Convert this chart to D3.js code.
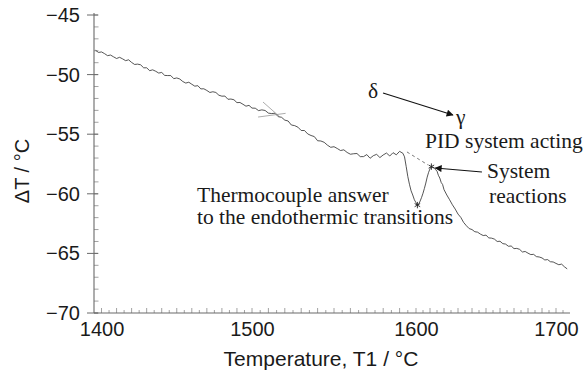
<!DOCTYPE html>
<html><head><meta charset="utf-8">
<script src="https://cdn.jsdelivr.net/npm/d3@7"></script>
<style>html,body{margin:0;padding:0;background:#fff;} svg{display:block;}</style>
</head><body><svg id="c" width="583" height="376"></svg>
<script>
// ---- data ----
const temperature = [
1396,1398,1400,1402,1404,1406,1408,1410,1412,1414,1416,1418,1420,1422,1424,1426,1428,1430,1432,1434,
1436,1438,1440,1442,1444,1446,1448,1450,1452,1454,1456,1458,1460,1462,1464,1466,1468,1470,1472,1474,
1476,1478,1480,1482,1484,1486,1488,1490,1492,1494,1496,1498,1500,1502,1504,1506,1508,1510,1512,1514,
1516,1518,1520,1522,1524,1526,1528,1530,1532,1534,1536,1538,1540,1542,1544,1546,1548,1550,1552,1554,
1556,1558,1560,1562,1564,1566,1568,1570,1572,1574,1576,1578,1580,1582,1584,1586,1588,1590,
1592,1593,1594,1595,1596,1597,1598,1599,1600,1601,1602,1603,1604,1605,1606,1607,1608,1609,1610,1611,
1612,1613,1614,1615,1616,1617,1618,1619,1620,
1622,1624,1626,1628,1630,1632,1634,1636,1638,1640,1642,1644,1646,1648,1650,1652,1654,1656,1658,1660,
1662,1664,1666,1668,1670,1672,1674,1676,1678,1680,1682,1684,1686,1688,1690,1692,1694,1696,1698,1700,
1702,1704,1706,1708];
const deltaT = [
-47.96,-48.14,-48.10,-48.24,-48.41,-48.36,-48.51,-48.65,-48.55,-48.68,-48.83,-48.76,-48.98,-49.15,-49.12,-49.18,-49.43,-49.43,-49.67,-49.60,
-49.72,-49.87,-49.82,-50.07,-50.08,-50.08,-50.34,-50.28,-50.37,-50.58,-50.71,-50.64,-50.81,-50.97,-50.93,-51.20,-51.19,-51.33,-51.50,-51.44,
-51.50,-51.73,-51.81,-51.80,-52.07,-52.05,-52.11,-52.35,-52.34,-52.49,-52.65,-52.58,-52.81,-52.82,-53.02,-52.96,-53.01,-53.23,-53.27,-53.24,
-53.53,-53.58,-53.82,-53.89,-54.23,-54.28,-54.41,-54.69,-54.69,-54.98,-55.11,-55.20,-55.55,-55.57,-55.68,-55.92,-56.10,-56.05,-56.20,-56.37,
-56.31,-56.53,-56.68,-56.64,-56.62,-56.88,-56.88,-56.71,-57.02,-56.80,-56.69,-56.96,-56.74,-56.58,-56.83,-56.55,-56.73,-56.44,
-56.60,-56.90,-57.70,-58.55,-59.20,-59.75,-60.10,-60.50,-60.75,-60.95,-60.85,-60.60,-60.30,-59.95,-59.55,-59.10,-58.60,-58.20,-57.90,-57.72,
-57.78,-57.80,-57.98,-58.10,-58.45,-58.68,-59.05,-59.22,-59.65,
-60.10,-60.50,-60.92,-61.28,-61.70,-61.98,-62.40,-62.68,-62.92,-63.00,-63.18,-63.22,-63.38,-63.50,-63.47,-63.70,-63.72,-63.80,-64.00,-63.98,
-64.18,-64.22,-64.40,-64.38,-64.60,-64.58,-64.66,-64.88,-64.84,-64.98,-65.10,-65.08,-65.27,-65.30,-65.38,-65.55,-65.52,-65.70,-65.72,-65.84,
-65.95,-65.90,-66.12,-66.30];

const yTickValues = [-70, -65, -60, -55, -50, -45];
const yTickLabels = ["\u221270", "\u221265", "\u221260", "\u221255", "\u221250", "\u221245"];
const xTickValues = [1400, 1500, 1600, 1700];
const xTickLabels = ["1400", "1500", "1600", "1700"];

// transition minimum and system-reaction peak
const markerT = [1601, 1611];
const markerV = [-60.95, -57.72];

// guide lines (data coordinates): [t1, v1, t2, v2]
const baselineExtension = [1594.5, -56.49, 1608.6, -57.58];
const tangentA = [1506.7, -52.30, 1517.1, -53.56];
const tangentB = [1503.7, -53.56, 1520.5, -53.25];
// arrows (data coordinates): [tFrom, vFrom, tTo, vTo]
const arrowDeltaGamma = [1579.9, -51.54, 1626.4, -53.39];
const arrowSystem = [1647.1, -58.17, 1613.8, -57.84];

// ---- drawing ----
const svg = d3.select("#c");
const sans = "'Liberation Sans', Arial, Helvetica, sans-serif";
const serif = "'Liberation Serif', 'Times New Roman', Times, serif";

const x = d3.scaleLinear().domain([1395, 1500, 1600, 1710]).range([94, 252, 416, 570]);
const y = d3.scaleLinear().domain([-70, -45]).range([313, 15]);

const axisColor = "#6a6a6a";

const g = svg.append("g");
// minor ticks y (inside)
g.selectAll("line.ymin").data(d3.range(-70, -44, 1)).join("line")
  .attr("x1", 94).attr("x2", 98.5)
  .attr("y1", d => y(d)).attr("y2", d => y(d))
  .attr("stroke", "#8a8a8a").attr("stroke-width", 0.8);
// major ticks y (crossing)
g.selectAll("line.ymaj").data(yTickValues).join("line")
  .attr("x1", 87).attr("x2", 98)
  .attr("y1", d => y(d)).attr("y2", d => y(d))
  .attr("stroke", axisColor).attr("stroke-width", 1);
// minor ticks x (inside)
g.selectAll("line.xmin").data(d3.range(1400, 1710, 5)).join("line")
  .attr("x1", d => x(d)).attr("x2", d => x(d))
  .attr("y1", 313).attr("y2", d => d % 10 === 0 ? 308 : 310)
  .attr("stroke", "#8a8a8a").attr("stroke-width", 0.8);

// axis lines
g.append("line").attr("x1", 94).attr("x2", 94).attr("y1", 13).attr("y2", 313)
  .attr("stroke", axisColor).attr("stroke-width", 1.1);
g.append("line").attr("x1", 94).attr("x2", 570).attr("y1", 313).attr("y2", 313)
  .attr("stroke", axisColor).attr("stroke-width", 1.1);

// tick labels via d3 axes
const yAxis = d3.axisLeft(y).tickValues(yTickValues)
  .tickFormat((d, i) => yTickLabels[i]).tickSize(0).tickPadding(14);
const ya = svg.append("g").attr("transform", "translate(94,0)").call(yAxis);
ya.select(".domain").remove();
ya.selectAll("text").attr("font-family", sans).attr("font-size", 20).attr("fill", "#1a1a1a");

const xAxis = d3.axisBottom(x).tickValues(xTickValues)
  .tickFormat((d, i) => xTickLabels[i]).tickSize(0).tickPadding(9);
const xa = svg.append("g").attr("transform", "translate(0,313)").call(xAxis);
xa.select(".domain").remove();
xa.selectAll("text").attr("font-family", sans).attr("font-size", 20).attr("fill", "#1a1a1a");

// axis titles
svg.append("text").attr("x", 321).attr("y", 366).attr("text-anchor", "middle")
  .attr("font-family", sans).attr("font-size", 21).attr("fill", "#1a1a1a")
  .text("Temperature, T1 / \u00B0C");
svg.append("text").attr("transform", "translate(29,171) rotate(-90)")
  .attr("text-anchor", "middle")
  .attr("font-family", sans).attr("font-size", 20).attr("fill", "#1a1a1a")
  .text("\u0394T / \u00B0C");

// curve
const pts = temperature.map((t, i) => ({t, v: deltaT[i]}));
svg.append("path").datum(pts)
  .attr("d", d3.line().x(d => x(d.t)).y(d => y(d.v)))
  .attr("fill", "none").attr("stroke", "#2a2a2a").attr("stroke-width", 0.8)
  .attr("stroke-linejoin", "round");

// guide lines
function seg(a, attrs) {
  const l = svg.append("line")
    .attr("x1", x(a[0])).attr("y1", y(a[1])).attr("x2", x(a[2])).attr("y2", y(a[3]));
  Object.entries(attrs).forEach(([k, v]) => l.attr(k, v));
  return l;
}
seg(baselineExtension, {"stroke": "#777", "stroke-width": 1, "stroke-dasharray": "3,3"});
seg(tangentA, {"stroke": "#888", "stroke-width": 0.7});
seg(tangentB, {"stroke": "#888", "stroke-width": 0.7});

// arrow marker
svg.append("defs").append("marker").attr("id", "ah")
  .attr("viewBox", "0 0 10 10").attr("refX", 9).attr("refY", 5)
  .attr("markerWidth", 9).attr("markerHeight", 7).attr("markerUnits", "userSpaceOnUse")
  .attr("orient", "auto")
  .append("path").attr("d", "M0,0 L10,5 L0,10 Z").attr("fill", "#111");
seg(arrowDeltaGamma, {"stroke": "#111", "stroke-width": 1.1, "marker-end": "url(#ah)"});
seg(arrowSystem, {"stroke": "#111", "stroke-width": 1.1, "marker-end": "url(#ah)"});

// markers at extrema
svg.selectAll("path.mk").data(markerT).join("path")
  .attr("transform", (d, i) => `translate(${x(d)},${y(markerV[i])})`)
  .attr("d", d3.symbol(d3.symbolAsterisk, 28))
  .attr("fill", "none").attr("stroke", "#222").attr("stroke-width", 0.9);

// annotations
const notes = [
  {text: "\u03B4", x: 368, y: 98},
  {text: "\u03B3", x: 456, y: 124},
  {text: "PID system acting", x: 425, y: 148},
  {text: "System", x: 487, y: 178},
  {text: "reactions", x: 489, y: 203},
  {text: "Thermocouple answer", x: 197, y: 202},
  {text: "to the endothermic transitions", x: 197, y: 224}
];
svg.selectAll("text.note").data(notes).join("text").attr("class", "note")
  .attr("x", d => d.x).attr("y", d => d.y)
  .attr("font-family", serif).attr("font-size", 21.5).attr("fill", "#1a1a1a")
  .text(d => d.text);
</script>
</body></html>
